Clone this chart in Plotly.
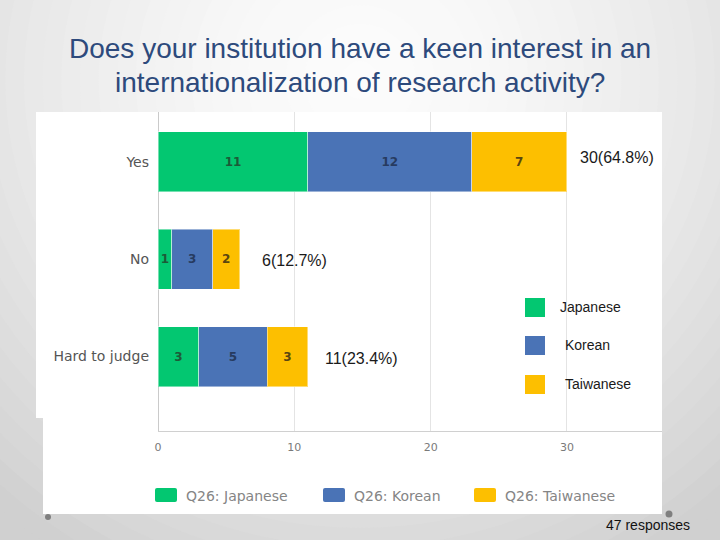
import plotly.graph_objects as go

# ---------------- data ----------------
categories = ["Yes", "No", "Hard to judge"]
series_names = ["Japanese", "Korean", "Taiwanese"]
japanese = [11, 1, 3]
korean = [12, 3, 5]
taiwanese = [7, 2, 3]
total_labels = ["30(64.8%)", "6(12.7%)", "11(23.4%)"]
x_ticks = [0, 10, 20, 30]
title_lines = ["Does your institution have a keen interest in an",
               "internationalization of research activity?"]
legend_prefix = "Q26: "
responses_label = "47 responses"

# ---------------- style ----------------
W, H = 720, 540
def px(x): return x / W
def py(y): return 1 - y / H

bar_colors = ["#03c771", "#4a73b6", "#fdbf00"]
text_colors = ["#1d5a38", "#273b60", "#5a4610"]
series_values = [japanese, korean, taiwanese]

fig = go.Figure()
for name, vals, col, tcol in zip(series_names, series_values, bar_colors, text_colors):
    fig.add_trace(go.Bar(
        y=categories, x=vals, orientation="h", name=name,
        marker=dict(color=col, line=dict(color="rgba(255,255,255,0.45)", width=1)),
        width=0.617,
        text=vals, texttemplate="<b>%{x}</b>", textposition="inside",
        insidetextanchor="middle", textangle=0, constraintext="none",
        textfont=dict(family="DejaVu Sans", size=12, color=tcol),
        showlegend=False, hoverinfo="skip",
    ))

shapes = []
# background vignette (radial gradient approximation)
cx, cy, R = 360, 80, 560
N = 30
for i in range(N):
    t = 1 - i / N
    g = int(round(252 - 44 * t ** 1.6))
    shapes.append(dict(type="circle", xref="paper", yref="paper", layer="below",
                       x0=px(cx - R * t), x1=px(cx + R * t),
                       y0=py(cy + R * t), y1=py(cy - R * t),
                       fillcolor=f"rgb({g},{g},{g})", line=dict(width=0)))
# white chart panel (pasted screenshot)
shapes.append(dict(type="rect", xref="paper", yref="paper", layer="below",
                   x0=px(36), x1=px(662), y0=py(418), y1=py(112),
                   fillcolor="white", line=dict(width=0)))
shapes.append(dict(type="rect", xref="paper", yref="paper", layer="below",
                   x0=px(43), x1=px(662), y0=py(514), y1=py(418),
                   fillcolor="white", line=dict(width=0)))
# decorative dots
for (dx, dy, r) in [(48, 517, 3), (669, 514, 3.5)]:
    shapes.append(dict(type="circle", xref="paper", yref="paper", layer="above",
                       x0=px(dx - r), x1=px(dx + r), y0=py(dy + r), y1=py(dy - r),
                       fillcolor="#7f7f7f", line=dict(width=0)))

annotations = []
# title
for line, yc in zip(title_lines, [48, 82]):
    annotations.append(dict(text=line, xref="paper", yref="paper", x=px(360), y=py(yc),
                            xanchor="center", yanchor="middle", showarrow=False,
                            font=dict(family="Liberation Sans", size=28, color="#2d4a7c")))
# totals
tot_xshift = [11, 20, 15]
tot_yshift = [4, -1, -1.5]
for i, cat in enumerate(categories):
    total = japanese[i] + korean[i] + taiwanese[i]
    annotations.append(dict(text=total_labels[i], x=total, y=cat, xref="x", yref="y",
                            xanchor="left", yanchor="middle", showarrow=False,
                            xshift=tot_xshift[i], yshift=tot_yshift[i],
                            font=dict(family="Liberation Sans", size=16, color="#1a1a1a")))
# overlay legend (right)
sq_tops = [298, 336, 375]
lab_x = [558, 563, 563]
for name, col, top, lx in zip(series_names, bar_colors, sq_tops, lab_x):
    shapes.append(dict(type="rect", xref="paper", yref="paper", layer="above",
                       x0=px(525), x1=px(545), y0=py(top + 19), y1=py(top),
                       fillcolor=col, line=dict(width=0)))
    annotations.append(dict(text=name, xref="paper", yref="paper", x=px(lx), y=py(top + 9),
                            xanchor="left", yanchor="middle", showarrow=False,
                            font=dict(family="Liberation Sans", size=14, color="#1a1a1a")))
# bottom legend (screenshot legend)
sq_x = [155, 323, 474]
for name, col, sx in zip(series_names, bar_colors, sq_x):
    shapes.append(dict(type="path", xref="paper", yref="paper", layer="above",
                       path=(f"M {px(sx+2)},{py(488)} L {px(sx+20)},{py(488)} "
                             f"Q {px(sx+22)},{py(488)} {px(sx+22)},{py(490)} "
                             f"L {px(sx+22)},{py(500)} Q {px(sx+22)},{py(502)} {px(sx+20)},{py(502)} "
                             f"L {px(sx+2)},{py(502)} Q {px(sx)},{py(502)} {px(sx)},{py(500)} "
                             f"L {px(sx)},{py(490)} Q {px(sx)},{py(488)} {px(sx+2)},{py(488)} Z"),
                       fillcolor=col, line=dict(width=0)))
    annotations.append(dict(text=legend_prefix + name, xref="paper", yref="paper",
                            x=px(sx + 29), y=py(496), xanchor="left", yanchor="middle",
                            showarrow=False,
                            font=dict(family="DejaVu Sans", size=14, color="#858585")))
# responses
annotations.append(dict(text=responses_label, xref="paper", yref="paper", x=px(648), y=py(525),
                        xanchor="center", yanchor="middle", showarrow=False,
                        font=dict(family="Liberation Sans Narrow, Liberation Sans", size=14,
                                  color="#111111")))

fig.update_layout(
    width=W, height=H, margin=dict(l=0, r=0, t=0, b=0, pad=0),
    paper_bgcolor="rgb(208,208,208)", plot_bgcolor="white",
    barmode="stack", bargap=0.3,
    shapes=shapes, annotations=annotations, showlegend=False,
    xaxis=dict(domain=[px(158), px(662)], range=[0, 36.97], tickvals=x_ticks,
               showgrid=True, gridcolor="#e4e4e4", gridwidth=1,
               zeroline=True, zerolinecolor="#cacaca", zerolinewidth=1,
               showline=True, linecolor="#d0d0d0", linewidth=1,
               ticks="", ticklabelstandoff=6, automargin=False, fixedrange=True,
               tickfont=dict(family="DejaVu Sans", size=11, color="#7a7a7a")),
    yaxis=dict(domain=[py(431), py(112)], type="category", categoryarray=categories,
               range=[2.766, -0.514], showgrid=False, zeroline=False, showline=False,
               ticks="", ticklabelstandoff=8, automargin=False, fixedrange=True,
               tickfont=dict(family="DejaVu Sans", size=14, color="#555555")),
)

fig.write_html("out.html", config={"displayModeBar": False},
               post_script="document.body.style.margin='0';document.body.style.overflow='hidden';")
